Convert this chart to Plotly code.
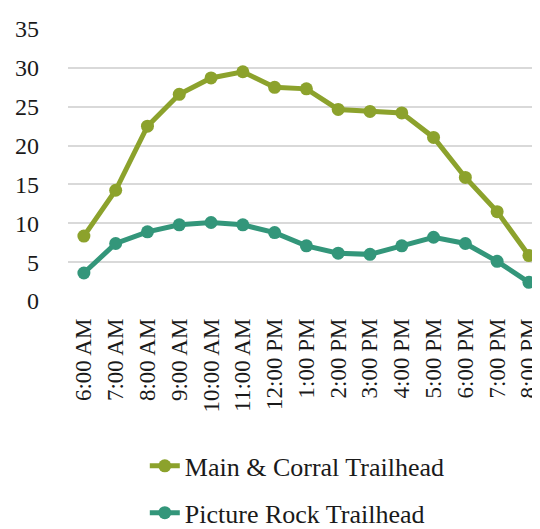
import plotly.graph_objects as go

hours = ["6:00 AM", "7:00 AM", "8:00 AM", "9:00 AM", "10:00 AM", "11:00 AM",
         "12:00 PM", "1:00 PM", "2:00 PM", "3:00 PM", "4:00 PM", "5:00 PM",
         "6:00 PM", "7:00 PM", "8:00 PM"]
main_corral = [8.35, 14.25, 22.5, 26.6, 28.7, 29.5, 27.5, 27.3, 24.65, 24.4, 24.2,
               21.05, 15.9, 11.5, 5.85]
picture_rock = [3.6, 7.4, 8.9, 9.8, 10.1, 9.8, 8.8, 7.1, 6.15, 6.0, 7.1, 8.2, 7.4,
                5.1, 2.4]
y_ticks = [0, 5, 10, 15, 20, 25, 30, 35]

OLIVE = "#8CA22C"
TEAL = "#33967A"
FONT = "Liberation Serif"

fig = go.Figure()
fig.add_trace(go.Scatter(
    x=hours, y=main_corral, name="Main & Corral Trailhead",
    mode="lines+markers", legendgroup="a",
    line=dict(color=OLIVE, width=5),
    marker=dict(color=OLIVE, size=13),
    cliponaxis=False,
))
fig.add_trace(go.Scatter(
    x=hours, y=picture_rock, name="Picture Rock Trailhead",
    mode="lines+markers", legendgroup="b",
    line=dict(color=TEAL, width=5),
    marker=dict(color=TEAL, size=13),
    cliponaxis=False,
))

fig.update_layout(
    width=540, height=529,
    margin=dict(l=60, r=0, t=21, b=223),
    paper_bgcolor="white", plot_bgcolor="white",
    font=dict(family=FONT, color="#1a1a1a", size=24),
    showlegend=True,
    legend=dict(
        x=0.16, y=-0.52, xanchor="left", yanchor="top",
        orientation="v", font=dict(size=26, family=FONT),
        tracegroupgap=10, bgcolor="rgba(0,0,0,0)",
    ),
    xaxis=dict(
        type="category", categoryorder="array", categoryarray=hours,
        range=[-0.5, 14.6], autorange=False, tickangle=-90, showgrid=False,
        showline=False, zeroline=False, ticks="",
        tickfont=dict(size=23, family=FONT), ticklabelstandoff=12,
    ),
    yaxis=dict(
        range=[0, 35], tickvals=y_ticks, showgrid=True,
        gridcolor="#D9D9D9", gridwidth=1.5, zeroline=False,
        showline=False, ticks="", tickfont=dict(size=24, family=FONT),
        ticklabelstandoff=28,
    ),
)

fig.write_html("out.html")
